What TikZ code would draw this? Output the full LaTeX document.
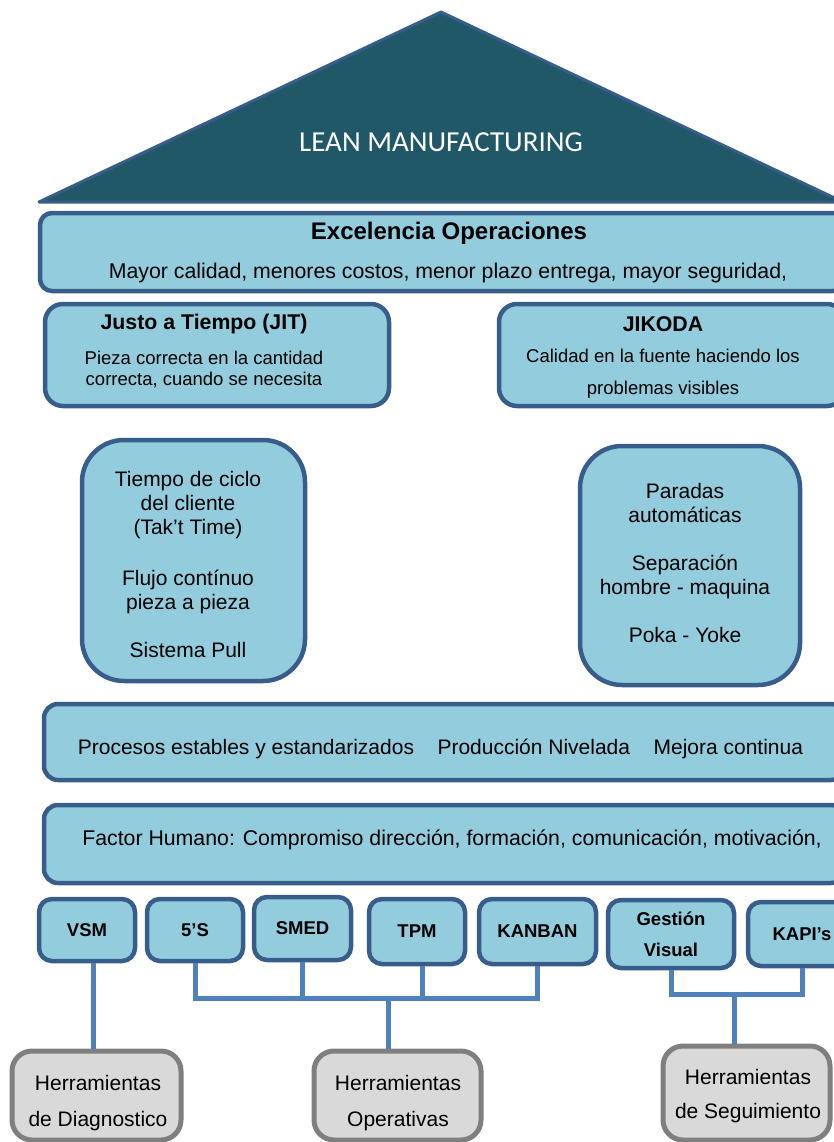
\documentclass[tikz,border=0pt]{standalone}
\usepackage{fontspec}
\setmainfont{Liberation Sans}
\newfontfamily\calibri{Carlito}
\definecolor{techo}{HTML}{215868}
\definecolor{borde}{HTML}{385D8A}
\definecolor{celeste}{HTML}{93CDDD}
\definecolor{enlace}{HTML}{4F81BD}
\definecolor{grisfondo}{HTML}{D9D9D9}
\definecolor{grisborde}{HTML}{7F7F7F}
\tikzset{
  caja/.style={draw=borde, fill=celeste, line width=4.5pt, rounded corners=#1, inner sep=0pt},
  caja/.default=14pt,
  herram/.style={caja=13pt, font=\fontsize{18.5}{31}\selectfont\bfseries, align=center},
  grupo/.style={draw=grisborde, fill=grisfondo, line width=5pt, rounded corners=20pt, inner sep=0pt},
  conector/.style={draw=enlace, line width=5pt},
  texto/.style={font=\fontsize{21}{24}\selectfont, align=center, inner sep=0pt},
  titulo/.style={font=\fontsize{21.3}{23}\selectfont\bfseries, inner sep=0pt},
}
\begin{document}
\begin{tikzpicture}[x=1pt, y=-1pt]
  \useasboundingbox (0,0) rectangle (833,1142);
  % techo
  \draw [draw=borde, fill=techo, line width=3pt, line join=round] (39,202)--(441,12)--(843,202)--cycle;
  \node [text=white, font=\calibri\fontsize{29}{30}\selectfont] (lean) at (441,142) {LEAN MANUFACTURING};
  % excelencia
  \node [caja=12pt, minimum width=805pt, minimum height=78pt] (excel) at (442.5,252) {};
  \node [font=\fontsize{24}{26}\selectfont\bfseries, inner sep=0pt] (tituloexc) at (449,233) {Excelencia Operaciones};
  \node [texto, font=\fontsize{21.3}{24}\selectfont] (lemaexc) at (448,273) {Mayor calidad, menores costos, menor plazo entrega, mayor seguridad,};
  % JIT y JIKODA
  \node [caja=18pt, minimum width=344pt, minimum height=102pt] (jit) at (217,355) {};
  \node [titulo] (titulojit) at (204,324) {Justo a Tiempo (JIT)};
  \node [texto, font=\fontsize{18.5}{21}\selectfont] (textojit) at (204,369) {Pieza correcta en la cantidad\\correcta, cuando se necesita};
  \node [caja=18pt, minimum width=346pt, minimum height=102pt] (jikoda) at (672,355) {};
  \node [titulo] (titulojk) at (663,324) {JIKODA};
  \node [texto, font=\fontsize{18.5}{32}\selectfont] (textojk) at (663,374) {Calidad en la fuente haciendo los\\problemas visibles};
  % pilares
  \node [caja=42pt, minimum width=223pt, minimum height=241pt] (pilarjit) at (193.5,560.5) {};
  \node [texto] (listajit) at (188,564) {Tiempo de ciclo\\del cliente\\(Tak’t Time)\\[27pt]Flujo contínuo\\pieza a pieza\\[24pt]Sistema Pull};
  \node [caja=42pt, minimum width=220pt, minimum height=239pt] (pilarjk) at (690,565.5) {};
  \node [texto] (listajk) at (685,563) {Paradas\\automáticas\\[24pt]Separación\\hombre - maquina\\[24pt]Poka - Yoke};
  % bases
  \node [caja, minimum width=801pt, minimum height=76pt] (procesos) at (444.5,742) {};
  \node [texto] (textoproc) at (440.5,749) {Procesos estables y estandarizados\hspace{23.5pt}Producción Nivelada\hspace{23.5pt}Mejora continua};
  \node [caja, minimum width=801pt, minimum height=78pt] (factor) at (444.5,844) {};
  \node [texto, font=\fontsize{21.3}{24}\selectfont] (textofactor) at (452,840) {Factor Humano: Compromiso dirección, formación, comunicación, motivación,};
  % herramientas
  \node [herram, minimum width=96pt, minimum height=62pt] (vsm) at (87,930) {VSM};
  \node [herram, minimum width=96pt, minimum height=62pt] (cinco) at (195,930) {5’S};
  \node [herram, minimum width=97pt, minimum height=63pt] (smed) at (302.5,928.5) {SMED};
  \node [herram, minimum width=96pt, minimum height=65pt] (tpm) at (417,931.5) {TPM};
  \node [herram, minimum width=117pt, minimum height=65pt] (kanban) at (537.5,931.5) {KANBAN};
  \node [herram, minimum width=126pt, minimum height=68pt] (gestion) at (671,934) {Gestión\\Visual};
  \node [herram, minimum width=108pt, minimum height=64pt] (kapis) at (802,934) {KAPI’s};
  % grupos
  \node [grupo, minimum width=169pt, minimum height=89pt] (diag) at (96.5,1095.5) {};
  \node [texto, font=\fontsize{21}{36}\selectfont] (textodiag) at (98,1103) {Herramientas\\de Diagnostico};
  \node [grupo, minimum width=167pt, minimum height=89pt] (oper) at (397.5,1095.5) {};
  \node [texto, font=\fontsize{21}{36}\selectfont] (textooper) at (398,1103) {Herramientas\\Operativas};
  \node [grupo, minimum width=167pt, minimum height=94pt] (segui) at (746.5,1093) {};
  \node [texto, font=\fontsize{21}{34}\selectfont] (textosegui) at (748,1096) {Herramientas\\de Seguimiento};
  % conectores
  \coordinate (barraO) at (388,998);
  \coordinate (barraS) at (734,994);
  \draw [conector] ([xshift=6pt]vsm.south) -- ([xshift=6pt]vsm.south |- diag.north);
  \draw [conector] (cinco.south) |- (barraO);
  \draw [conector] (kanban.south) |- (barraO);
  \draw [conector] (smed.south) -- (smed.south |- barraO);
  \draw [conector] ([xshift=5pt]tpm.south) -- ([xshift=5pt]tpm.south |- barraO);
  \draw [conector] (barraO) -- (barraO |- oper.north);
  \draw [conector] (gestion.south) |- (barraS);
  \draw [conector] (kapis.south) |- (barraS);
  \draw [conector] (barraS) -- (barraS |- segui.north);
\end{tikzpicture}
\end{document}
